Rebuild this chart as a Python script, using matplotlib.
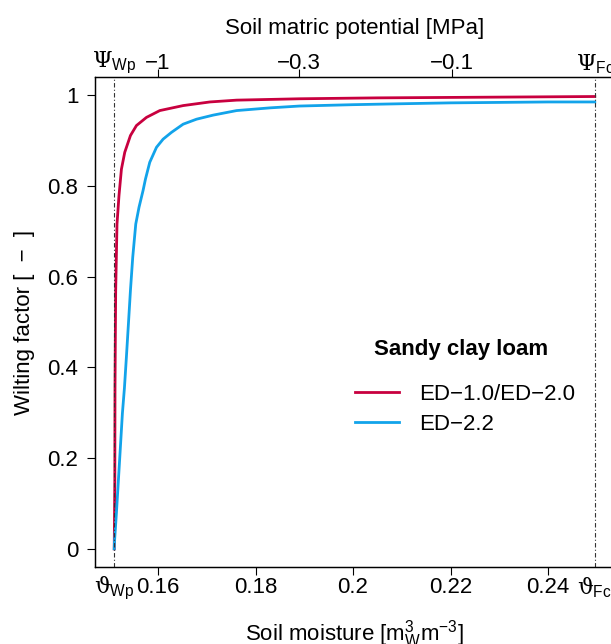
import matplotlib
matplotlib.use('Agg')
import matplotlib.pyplot as plt

plt.rcParams['font.family'] = ['Liberation Sans', 'DejaVu Sans']
plt.rcParams['mathtext.fontset'] = 'custom'
plt.rcParams['mathtext.rm'] = 'DejaVu Serif'
plt.rcParams['mathtext.sf'] = 'Liberation Sans'
plt.rcParams['mathtext.it'] = 'DejaVu Serif'

# wilting point / field capacity soil moisture [m3/m3]
theta_wp = 0.151
theta_fc = 0.2496

# ED-1.0/ED-2.0 wilting factor
theta_ed1 = [0.1510, 0.15112, 0.15116, 0.15123, 0.15130, 0.15157, 0.15198, 0.15248,
             0.15316, 0.15433, 0.15556, 0.15762, 0.16035, 0.16514, 0.17063, 0.17611,
             0.189, 0.205, 0.220, 0.235, 0.2496]
wilt_ed1 = [0.0, 0.15, 0.354, 0.47, 0.570, 0.716, 0.779, 0.837,
            0.874, 0.911, 0.933, 0.951, 0.966, 0.977, 0.985, 0.989,
            0.992, 0.994, 0.995, 0.996, 0.997]

# ED-2.2 wilting factor
theta_ed22 = [0.1510, 0.15104, 0.15145, 0.15186, 0.15227, 0.15268, 0.15309, 0.15350,
              0.15392, 0.15433, 0.15480, 0.15542, 0.15609, 0.15692, 0.15741, 0.15829,
              0.15967, 0.16103, 0.16275, 0.16514, 0.16789, 0.17131, 0.17611, 0.183,
              0.189, 0.2, 0.2097, 0.220, 0.230, 0.24, 0.2496]
wilt_ed22 = [0.0, 0.013, 0.079, 0.152, 0.225, 0.299, 0.354, 0.423,
             0.497, 0.570, 0.643, 0.716, 0.753, 0.790, 0.815, 0.852,
             0.885, 0.903, 0.918, 0.936, 0.947, 0.956, 0.966, 0.972,
             0.976, 0.979, 0.981, 0.983, 0.984, 0.985, 0.985]

# bottom axis ticks
x_ticks = [0.16, 0.18, 0.2, 0.22, 0.24]
x_labels = ['0.16', '0.18', '0.2', '0.22', '0.24']
y_ticks = [0, 0.2, 0.4, 0.6, 0.8, 1]
y_labels = ['0', '0.2', '0.4', '0.6', '0.8', '1']

# top axis: soil matric potential ticks placed at matching soil moisture
psi_ticks_theta = [0.15988, 0.18898, 0.22031]
psi_labels = ['\u22121', '\u22120.3', '\u22120.1']

fs = 16

fig = plt.figure(figsize=(6.11, 6.44), dpi=100)
ax = fig.add_axes([95 / 611, 77 / 644, 519 / 611, 490 / 644])

ax.plot(theta_ed1, wilt_ed1, color='#C8003F', lw=2.0, label='ED\u22121.0/ED\u22122.0',
        solid_joinstyle='round')
ax.plot(theta_ed22, wilt_ed22, color='#12A3EA', lw=2.0, label='ED\u22122.2',
        solid_joinstyle='round')

for t in [theta_wp, theta_fc]:
    ax.axvline(t, color='#333333', lw=0.8, linestyle=(0, (4, 2, 1, 2)))

rng = theta_fc - theta_wp
ax.set_xlim(theta_wp - 0.04 * rng, theta_fc + 0.04 * rng)
ax.set_ylim(-0.04, 1.04)

ax.set_xticks(x_ticks, x_labels)
ax.set_yticks(y_ticks, y_labels)
ax.set_xticks([theta_wp, theta_fc], [r'$\vartheta_{\mathsf{Wp}}$', r'$\vartheta_{\mathsf{Fc}}$'], minor=True)
ax.tick_params(axis='both', which='major', direction='out', length=6, width=0.8,
               labelsize=fs, pad=1)
ax.tick_params(axis='y', which='major', pad=6)
ax.tick_params(axis='x', which='minor', length=0, pad=6, labelsize=fs)

ax.set_xlabel(r'Soil moisture [m$_{\mathsf{W}}^{\mathsf{3}}$m$^{\mathsf{-3}}$]', fontsize=fs, labelpad=11)
ax.set_ylabel('Wilting factor [  \u2212  ]', fontsize=fs, labelpad=9)

for s in ax.spines.values():
    s.set_linewidth(0.9)

# top axis
axt = ax.twiny()
axt.set_xlim(ax.get_xlim())
axt.set_xticks(psi_ticks_theta, psi_labels)
axt.set_xticks([theta_wp, theta_fc], [r'$\Psi_{\mathsf{Wp}}$', r'$\Psi_{\mathsf{Fc}}$'], minor=True)
axt.tick_params(axis='x', which='major', direction='out', length=6, width=0.8,
                labelsize=fs, pad=-4)
axt.tick_params(axis='x', which='minor', length=0, pad=1, labelsize=fs)
axt.set_xlabel('Soil matric potential [MPa]', fontsize=fs, labelpad=11)
for s in axt.spines.values():
    s.set_linewidth(0.9)

# legend with its title drawn separately
fig.text(461 / 611, 1 - 349 / 644, 'Sandy clay loam', fontsize=fs, fontweight='bold',
         ha='center', va='center')
leg = ax.legend(loc='center', bbox_to_anchor=(465 / 611, 1 - 409.5 / 644),
                bbox_transform=fig.transFigure, frameon=False, fontsize=fs,
                handlelength=2.0, handletextpad=0.9, labelspacing=0.4,
                borderpad=0)

fig.savefig('out.png', dpi=100)
